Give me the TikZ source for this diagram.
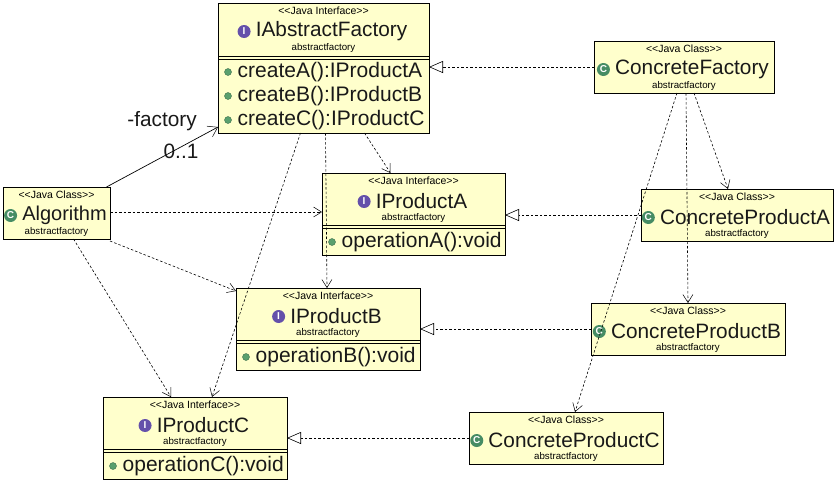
\documentclass[tikz,border=0pt]{standalone}
\usepackage{fontspec}
\setmainfont{Liberation Sans}
\usetikzlibrary{arrows.meta}
\definecolor{boxfill}{RGB}{255,255,204}
\definecolor{classgreen}{RGB}{70,140,100}
\definecolor{ifacepurple}{RGB}{100,80,170}
\definecolor{opgreen}{RGB}{90,160,110}
\definecolor{inkdark}{RGB}{25,25,25}
\tikzset{
    umlbox/.style={draw=black,fill=boxfill,line width=0.9pt,inner sep=0pt,outer sep=0pt,anchor=north west},
    stereo/.style={font=\fontsize{10.5}{12}\selectfont,inner sep=0pt},
    pkg/.style={font=\fontsize{9.7}{11}\selectfont,inner sep=0pt},
    title/.style={font=\fontsize{20.8}{22}\selectfont,inner sep=0pt,text=inkdark},
    oper/.style={font=\fontsize{21}{22}\selectfont,inner sep=0pt,anchor=west,text=inkdark},
    icon/.style={circle,inner sep=0pt,minimum size=13pt,text=white,font=\bfseries\fontsize{10}{10}\selectfont},
    opdot/.style={circle,draw=opgreen!70!black,fill=opgreen,inner sep=0pt,minimum size=7pt},
    dep/.style={dash pattern=on 2.5pt off 2pt,line width=0.6pt,-{Straight Barb[length=8pt,width=10pt,line width=0.5pt]}},
    realize/.style={dash pattern=on 2.5pt off 2pt,line width=0.6pt,-{Triangle[open,length=14pt,width=12pt,fill=white,line width=0.6pt]}},
    assoc/.style={line width=0.7pt,-{Straight Barb[length=9pt,width=12pt,line width=0.5pt]}},
    rolelabel/.style={font=\fontsize{20.8}{22}\selectfont,inner sep=0pt,text=inkdark}
}
% name, x, y, width, height, icon colour, letter, kind, title
\newcommand{\umlhead}[9]{%
    \node[umlbox,minimum width=#4pt,minimum height=#5pt] (#1) at (#2,#3) {};
    \node[stereo] (#1s) at ([yshift=-8pt]#1.north) {<{}<Java #8>{}>};
    \node[pkg] (#1p) at ([yshift=-44.5pt]#1.north) {abstractfactory};
    \node[title] (#1t) at ([xshift=8pt,yshift=-28pt]#1.north) {#9};
    \node[icon,fill=#6] (#1i) at ([xshift=-11.5pt,yshift=-0.5pt]#1t.west) {#7};
}
\newcommand{\umlsep}[2]{%
    \draw[line width=0.8pt] ([yshift=-#2pt]#1.north west) -- ([yshift=-#2pt]#1.north east);
    \draw[line width=0.8pt] ([yshift=-#2pt-3pt]#1.north west) -- ([yshift=-#2pt-3pt]#1.north east);
}
\newcommand{\umlop}[4]{%
    \node[opdot] (#1d#2) at ([xshift=10pt,yshift=-#3pt]#1.north west) {};
    \node[oper] (#1o#2) at ([xshift=9.5pt,yshift=-0.5pt]#1d#2.center) {#4};
}
\begin{document}
\begin{tikzpicture}[x=1pt,y=-1pt]
    \useasboundingbox (0,0) rectangle (838,483);
    % interfaces
    \umlhead{fac}{218}{3}{211}{130}{ifacepurple}{I}{Interface}{IAbstractFactory}
    \umlsep{fac}{53}
    \umlop{fac}{a}{69}{createA():IProductA}
    \umlop{fac}{b}{93}{createB():IProductB}
    \umlop{fac}{c}{117}{createC():IProductC}
    \umlhead{proa}{322}{173}{183}{82}{ifacepurple}{I}{Interface}{IProductA}
    \umlsep{proa}{52}
    \umlop{proa}{a}{69}{operationA():void}
    \umlhead{prob}{236}{288}{184}{82}{ifacepurple}{I}{Interface}{IProductB}
    \umlsep{prob}{52}
    \umlop{prob}{a}{69}{operationB():void}
    \umlhead{proc}{103}{397}{184}{82}{ifacepurple}{I}{Interface}{IProductC}
    \umlsep{proc}{52}
    \umlop{proc}{a}{69}{operationC():void}
    % classes
    \umlhead{alg}{3}{187}{107}{52}{classgreen}{C}{Class}{\fontsize{20}{22}\selectfont Algorithm}
    \umlhead{cfac}{594}{41}{180}{52}{classgreen}{C}{Class}{ConcreteFactory}
    \umlhead{cproa}{641}{189}{192}{52}{classgreen}{C}{Class}{ConcreteProductA}
    \umlhead{cprob}{591}{303}{194}{52}{classgreen}{C}{Class}{ConcreteProductB}
    \umlhead{cproc}{469}{412}{194}{52}{classgreen}{C}{Class}{ConcreteProductC}
    % connectors
    \draw[assoc] ([xshift=50pt]alg.north) -- ([yshift=6pt]fac.south west);
    \node[rolelabel] (role) at (162,121) {-factory};
    \node[rolelabel] (mult) at (181,151) {0..1};
    \draw[dep] ([yshift=1pt]alg.east) -- ([yshift=1pt]proa.west|-alg.east);
    \draw[dep] ([yshift=-2pt]alg.south east) -- ([yshift=-3pt]prob.north west);
    \draw[dep] ([xshift=17pt]alg.south) -- ([xshift=-24pt]proc.north);
    \draw[dep] ([xshift=41pt]fac.south) -- ([xshift=-23pt]proa.north);
    \draw[dep] ([xshift=2pt]fac.south) -- ([xshift=-1pt]prob.north);
    \draw[dep] ([xshift=-23pt]fac.south) -- ([xshift=17pt]proc.north);
    \draw[dep] ([xshift=10pt]cfac.south) -- ([xshift=-9pt]cproa.north);
    \draw[dep] ([xshift=2pt]cfac.south) -- (cprob.north);
    \draw[dep] ([xshift=-7pt]cfac.south) -- ([xshift=9pt]cproc.north);
    \draw[realize] (cfac.west) -- (fac.east|-cfac.west);
    \draw[realize] (cproa.west) -- (proa.east|-cproa.west);
    \draw[realize] (cprob.west) -- (prob.east|-cprob.west);
    \draw[realize] (cproc.west) -- (proc.east|-cproc.west);
\end{tikzpicture}
\end{document}
